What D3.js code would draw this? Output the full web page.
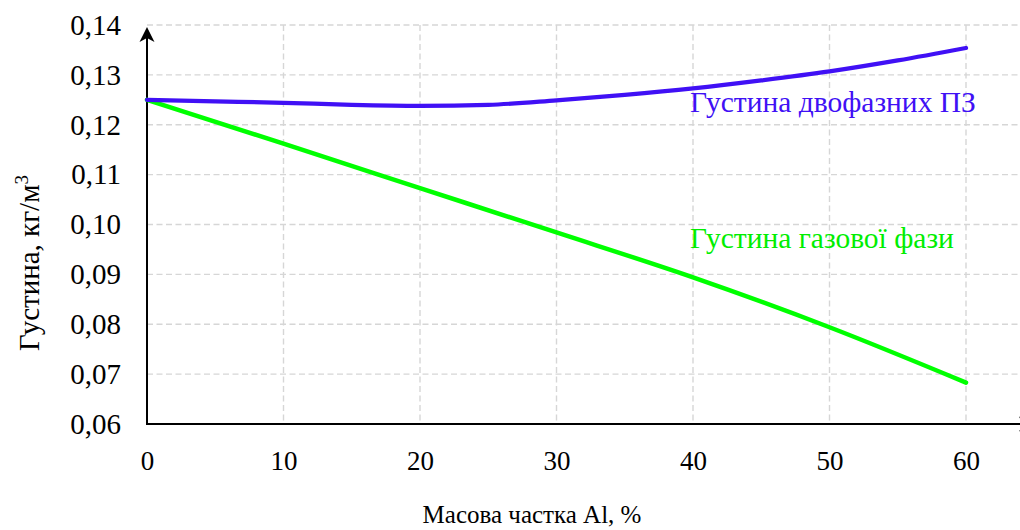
<!DOCTYPE html>
<html>
<head>
<meta charset="utf-8">
<script src="https://cdn.jsdelivr.net/npm/d3@7"></script>
<style>
  html, body { margin: 0; padding: 0; background: #fff; }
  svg { display: block; font-family: "Liberation Serif", "Times New Roman", serif; }
</style>
</head>
<body>
<svg id="chart" width="1020" height="530"></svg>
<script>
// Mass fraction of Al, %
const massFraction = [0, 5, 10, 15, 20, 25, 30, 35, 40, 45, 50, 55, 60];
// Density of two-phase combustion products, kg/m3
const twoPhaseDensity = [0.1250, 0.1247, 0.1244, 0.1240, 0.1238, 0.1240, 0.1249, 0.1260, 0.1273, 0.1289, 0.1307, 0.1329, 0.1354];
// Density of the gas phase, kg/m3
const gasMassFraction = [0, 10, 20, 30, 40, 50, 60];
const gasDensity = [0.1250, 0.1162, 0.1073, 0.0984, 0.0894, 0.0794, 0.0683];

const xTicks = [0, 10, 20, 30, 40, 50, 60];
const yTicks = [0.06, 0.07, 0.08, 0.09, 0.10, 0.11, 0.12, 0.13, 0.14];

const svg = d3.select("#chart");

const x = d3.scaleLinear().domain([0, 60]).range([147, 966]);
const y = d3.scaleLinear().domain([0.06, 0.14]).range([424, 25]);
const xEnd = 1034; // x-axis runs past the last tick to its arrow

const fmt = v => d3.format(".2f")(v).replace(".", ",");

// Grid
const grid = svg.append("g")
  .attr("stroke", "#d6d6d6")
  .attr("stroke-width", 1.4)
  .attr("stroke-dasharray", "6,3.5")
  .attr("fill", "none");

grid.selectAll("line.h")
  .data(yTicks.filter(d => d > 0.06))
  .join("line")
  .attr("x1", x(0)).attr("x2", xEnd)
  .attr("y1", d => y(d)).attr("y2", d => y(d));

grid.selectAll("line.v")
  .data(xTicks.filter(d => d > 0))
  .join("line")
  .attr("x1", d => x(d)).attr("x2", d => x(d))
  .attr("y1", y(0.14)).attr("y2", y(0.06));

// Axes via d3 axis generators, tick marks hidden
const xAxis = svg.append("g")
  .attr("transform", `translate(0,${y(0.06)})`)
  .call(d3.axisBottom(x).tickValues(xTicks).tickSize(0).tickPadding(27).tickFormat(d3.format("d")));
xAxis.select(".domain").remove();
xAxis.selectAll("text")
  .attr("font-size", 27).attr("font-family", "Liberation Serif").attr("fill", "#000");

const yAxis = svg.append("g")
  .attr("transform", `translate(${x(0)},0)`)
  .call(d3.axisLeft(y).tickValues(yTicks).tickSize(0).tickPadding(26).tickFormat(fmt));
yAxis.select(".domain").remove();
yAxis.selectAll("text")
  .attr("font-size", 29).attr("font-family", "Liberation Serif").attr("fill", "#000");

// Axis lines with arrows
const axisG = svg.append("g");
axisG.append("line")
  .attr("x1", x(0)).attr("x2", x(0))
  .attr("y1", y(0.06) + 1).attr("y2", 33)
  .attr("stroke", "#000").attr("stroke-width", 2);
axisG.append("path")
  .attr("d", `M${x(0)},27 L${x(0) + 7.5},42 L${x(0)},38 L${x(0) - 7.5},42 Z`)
  .attr("fill", "#000");
axisG.append("line")
  .attr("x1", x(0) - 1).attr("x2", xEnd - 6)
  .attr("y1", y(0.06)).attr("y2", y(0.06))
  .attr("stroke", "#000").attr("stroke-width", 2);
axisG.append("path")
  .attr("d", `M${xEnd},${y(0.06)} L${xEnd - 15},${y(0.06) - 7.5} L${xEnd - 11},${y(0.06)} L${xEnd - 15},${y(0.06) + 7.5} Z`)
  .attr("fill", "#000");

// Series lines
const twoPhaseLine = d3.line()
  .x((d, i) => x(massFraction[i]))
  .y(d => y(d))
  .curve(d3.curveMonotoneX);

const gasLine = d3.line()
  .x((d, i) => x(gasMassFraction[i]))
  .y(d => y(d))
  .curve(d3.curveMonotoneX);

svg.append("path")
  .datum(gasDensity)
  .attr("d", gasLine)
  .attr("fill", "none")
  .attr("stroke", "#00ff00")
  .attr("stroke-width", 4.5)
  .attr("stroke-linecap", "round")
  .attr("stroke-linejoin", "round");

svg.append("path")
  .datum(twoPhaseDensity)
  .attr("d", twoPhaseLine)
  .attr("fill", "none")
  .attr("stroke", "#4010f5")
  .attr("stroke-width", 4.2)
  .attr("stroke-linecap", "round")
  .attr("stroke-linejoin", "round");

// Series labels
svg.append("text")
  .attr("x", 690).attr("y", 112)
  .attr("font-size", 29.5).attr("fill", "#4010f5")
  .text("Густина двофазних ПЗ");

svg.append("text")
  .attr("x", 690).attr("y", 248)
  .attr("font-size", 29.5).attr("fill", "#00ee00")
  .text("Густина газової фази");

// Axis titles
svg.append("text")
  .attr("x", 532).attr("y", 523)
  .attr("text-anchor", "middle")
  .attr("font-size", 25).attr("fill", "#000")
  .text("Масова частка Al, %");

const yTitle = svg.append("text")
  .attr("transform", "translate(39,263) rotate(-90)")
  .attr("text-anchor", "middle")
  .attr("font-size", 29).attr("fill", "#000");
yTitle.append("tspan").text("Густина, кг/м");
yTitle.append("tspan").attr("dy", -11).attr("font-size", 19).text("3");
</script>
</body>
</html>
